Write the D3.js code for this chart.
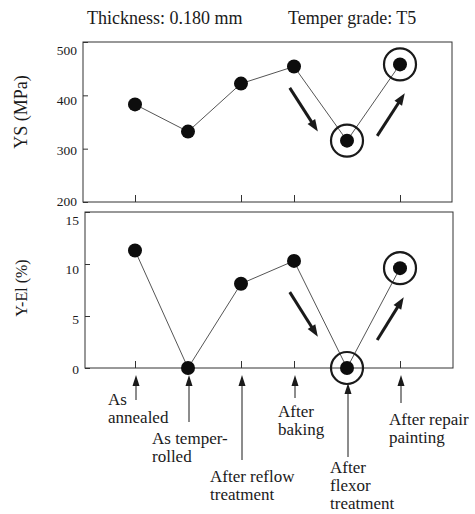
<!DOCTYPE html>
<html><head><meta charset="utf-8">
<script src="https://cdn.jsdelivr.net/npm/d3@7"></script>
<style>body{margin:0;background:#fff;}</style></head>
<body><div id="chart"></div>
<script>
// ---- data ----
const categories = ["As annealed","As temper-rolled","After reflow treatment","After baking","After flexor treatment","After repair painting"];
const categoryLines = [["As","annealed"],["As temper-","rolled"],["After reflow","treatment"],["After","baking"],["After","flexor","treatment"],["After repair","painting"]];
const ysValues = [383, 332, 422, 454, 315, 458];      // YS (MPa)
const yelValues = [11.3, 0, 8.1, 10.3, 0, 9.6];       // Y-El (%)
const ysTicks = [200, 300, 400, 500];
const yelTicks = [0, 5, 10, 15];
const circledIdx = [4, 5];
const titleLeft = "Thickness: 0.180 mm";
const titleRight = "Temper grade: T5";
// trend arrows in data space [x-index, value]
const ysTrend = [[[2.92, 414], [3.45, 332]], [[4.57, 324], [5.09, 404]]];
const yelTrend = [[[2.92, 7.3], [3.45, 3.0]], [[4.57, 2.7], [5.07, 6.8]]];

// ---- layout ----
const W = 475, H = 514;
const FONT = "Liberation Serif, Times New Roman, serif";
const ink = "#1a1a1a";
const svg = d3.select("#chart").append("svg").attr("width", W).attr("height", H)
  .attr("font-family", FONT);
const x = d3.scaleLinear().domain([0, 5]).range([135, 400]);
const yTop = d3.scaleLinear().domain([200, 500]).range([202, 42]);
const yBot = d3.scaleLinear().domain([0, 15]).range([368, 212]);
// label placement scales (tick labels sit slightly apart from the ticks in the original print)
const yTopLab = d3.scaleLinear().domain([200, 500]).range([201, 50]);
const yBotLab = d3.scaleLinear().domain([0, 15]).range([369, 220]);

function txt(g) { return g.append("text").attr("font-family", FONT).attr("fill", ink); }

function arrow(g, x1, y1, x2, y2, w, hl, hw) {
  const dx = x2 - x1, dy = y2 - y1, L = Math.hypot(dx, dy);
  const ux = dx / L, uy = dy / L, px = -uy, py = ux;
  const bx = x2 - ux * hl, by = y2 - uy * hl;
  g.append("line").attr("x1", x1).attr("y1", y1).attr("x2", bx + ux).attr("y2", by + uy)
    .attr("stroke", ink).attr("stroke-width", w);
  g.append("path").attr("d", `M${x2},${y2}L${bx + px * hw / 2},${by + py * hw / 2}L${bx - px * hw / 2},${by - py * hw / 2}Z`)
    .attr("fill", ink);
}

function panel(y, yLab, vals, ticks, trend, label, labelY, labelSize, left, right) {
  const g = svg.append("g");
  const top = y.range()[1], bot = y.range()[0];
  g.append("rect").attr("x", left).attr("y", top).attr("width", right - left).attr("height", bot - top)
    .attr("fill", "none").attr("stroke", "#333").attr("stroke-width", 1);
  const ya = g.append("g").attr("transform", `translate(${left},0)`)
    .call(d3.axisLeft(y).tickValues(ticks).tickSize(-5).tickFormat(""));
  ya.select(".domain").remove();
  ya.selectAll("line").attr("stroke", "#333");
  g.selectAll(".tl").data(ticks).enter().append("text")
    .attr("font-family", FONT).attr("fill", ink).attr("font-size", 13.5)
    .attr("x", left - 6).attr("y", d => yLab(d)).attr("dy", "0.35em").attr("text-anchor", "end")
    .text(d => d);
  const xa = g.append("g").attr("transform", `translate(0,${bot})`)
    .call(d3.axisBottom(x).tickValues([0, 2, 3, 5]).tickSize(-7).tickFormat(""));
  xa.select(".domain").remove();
  xa.selectAll("line").attr("stroke", "#333");
  txt(g).attr("transform", `translate(27,${labelY}) rotate(-90)`)
    .attr("text-anchor", "middle").attr("font-size", labelSize).text(label);
  const line = d3.line().x((d, i) => x(i)).y(d => y(d));
  g.append("path").datum(vals).attr("d", line).attr("fill", "none").attr("stroke", "#555").attr("stroke-width", 1);
  g.selectAll(".ring").data(circledIdx).enter().append("circle")
    .attr("cx", i => x(i)).attr("cy", i => y(vals[i])).attr("r", 16)
    .attr("fill", "none").attr("stroke", ink).attr("stroke-width", 2.2);
  g.selectAll(".dot").data(vals).enter().append("circle")
    .attr("cx", (d, i) => x(i)).attr("cy", d => y(d)).attr("r", 7).attr("fill", "#0d0d0d");
  trend.forEach(t => arrow(g, x(t[0][0]), y(t[0][1]), x(t[1][0]), y(t[1][1]), 3, 12, 9));
}

panel(yTop, yTopLab, ysValues, ysTicks, ysTrend, "YS (MPa)", 112, 18, 83, 452);
panel(yBot, yBotLab, yelValues, yelTicks, yelTrend, "Y-El (%)", 288, 16, 85, 453);

txt(svg).attr("x", 87).attr("y", 24).attr("font-size", 18).text(titleLeft);
txt(svg).attr("x", 288).attr("y", 24).attr("font-size", 18).text(titleRight);

// category pointers and labels below bottom panel
const pointerLayout = [
  {tip: 375, tail: 400, lx: -28, ly: 405},
  {tip: 375, tail: 422, lx: -37, ly: 444},
  {tip: 375, tail: 460, lx: -32, ly: 482},
  {tip: 375, tail: 398, lx: -17, ly: 417},
  {tip: 383, tail: 457, lx: -18, ly: 473},
  {tip: 375, tail: 403, lx: -12, ly: 425}
];
const cg = svg.append("g");
categoryLines.forEach((lines, i) => {
  const p = pointerLayout[i], cx = x(i) + 1;
  arrow(cg, cx, p.tail, cx, p.tip, 1, 11, 7);
  const t = txt(cg).attr("x", cx + p.lx).attr("y", p.ly).attr("font-size", 17);
  lines.forEach((s, k) => t.append("tspan").attr("x", cx + p.lx).attr("dy", k === 0 ? 0 : 18).text(s));
});
</script></body></html>
